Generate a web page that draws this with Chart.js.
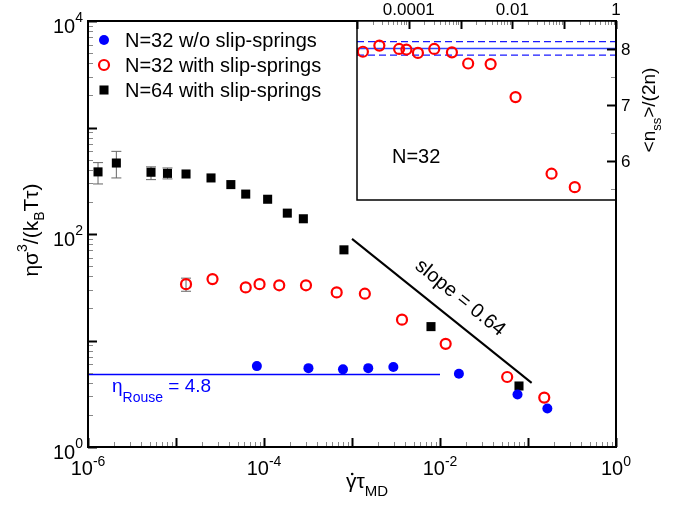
<!DOCTYPE html>
<html>
<head>
<meta charset="utf-8">
<script src="https://cdn.jsdelivr.net/npm/chart.js@4.4.0/dist/chart.umd.min.js"></script>
<style>
  body { margin: 0; background: #fff; }
  #wrap { position: relative; width: 683px; height: 505px; }
  canvas { position: absolute; left: 0; top: 0; }
</style>
</head>
<body>
<div id="wrap">
  <canvas id="main" width="683" height="505"></canvas>
  <canvas id="inset" width="683" height="505"></canvas>
</div>
<script>
// main panel data
const blueX = [8.3e-5, 3.2e-4, 7.9e-4, 1.53e-3, 2.95e-3, 0.0164, 0.076, 0.166];
const blueY = [5.75, 5.5, 5.36, 5.5, 5.63, 4.88, 3.11, 2.3];

const redX = [1.3e-5, 2.6e-5, 6.2e-5, 8.9e-5, 1.49e-4, 3.0e-4, 6.7e-4, 1.4e-3, 3.7e-3, 0.0116, 0.058, 0.153];
const redY = [33.8, 37.7, 31.5, 33.8, 33.0, 33.0, 28.3, 27.5, 15.7, 9.3, 4.54, 2.91];
const redErrLo = [29];
const redErrHi = [38.5];

const blackX = [1.3e-6, 2.1e-6, 5.2e-6, 8.0e-6, 1.3e-5, 2.5e-5, 4.2e-5, 6.2e-5, 1.1e-4, 1.84e-4, 2.8e-4, 8.1e-4, 7.9e-3, 0.079];
const blackY = [383, 464, 380, 371, 366, 336, 291, 237, 212, 157, 139, 71, 13.5, 3.74];
const blackErrLo = [295, 336, 324, 329];
const blackErrHi = [468, 597, 427, 417];

const rouseX = [1e-6, 1e-2];
const rouseY = [4.8, 4.8];
const slopeX = [1e-3, 0.11];
const slopeY = [90, 4.0];

const xTickExp = [-6, -4, -2, 0];
const yTickExp = [0, 2, 4];

// inset data
const insetX = [1.3e-5, 2.7e-5, 6.5e-5, 9e-5, 1.5e-4, 3.1e-4, 6.8e-4, 1.4e-3, 3.8e-3, 0.0115, 0.057, 0.16];
const insetY = [7.95, 8.06, 8.0, 7.99, 7.93, 8.0, 7.94, 7.74, 7.73, 7.14, 5.77, 5.53];
const nssMean = 8.01, nssHi = 8.13, nssLo = 7.89;
const insetTopTicks = [1e-4, 1e-2, 1];
const insetTopLabels = ['0.0001', '0.01', '1'];
const insetRightTicks = [6, 7, 8];

const FONT = '"Liberation Sans", Arial, sans-serif';
function pts(xs, ys) { return xs.map((x, i) => ({ x: x, y: ys[i] })); }

// draws a list of [text, size, dy] pieces one after another
function runWidth(ctx, parts) {
  let w = 0;
  parts.forEach(p => { ctx.font = p[1] + 'px ' + FONT; w += ctx.measureText(p[0]).width; });
  return w;
}
function drawRun(ctx, parts, x, y) {
  parts.forEach(p => {
    ctx.font = p[1] + 'px ' + FONT;
    ctx.fillText(p[0], x, y + p[2]);
    x += ctx.measureText(p[0]).width;
  });
}

function logTicks(from, to, cb) {
  for (let d = from; d <= to; d++) {
    for (let m = 1; m <= 9; m++) {
      if (d == to && m > 1) break;
      cb(m * Math.pow(10, d), m == 1);
    }
  }
}

const mainPlugin = {
  id: 'mainDeco',
  beforeDatasetsDraw(chart) {
    const ctx = chart.ctx, xs = chart.scales.x, ys = chart.scales.y;
    ctx.save();
    ctx.strokeStyle = '#666';
    ctx.lineWidth = 1;
    function bar(x, lo, hi) {
      const px = xs.getPixelForValue(x);
      const a = ys.getPixelForValue(lo), b = ys.getPixelForValue(hi);
      ctx.beginPath();
      ctx.moveTo(px, a); ctx.lineTo(px, b);
      ctx.moveTo(px - 5, a); ctx.lineTo(px + 5, a);
      ctx.moveTo(px - 5, b); ctx.lineTo(px + 5, b);
      ctx.stroke();
    }
    blackErrLo.forEach((lo, i) => bar(blackX[i], lo, blackErrHi[i]));
    redErrLo.forEach((lo, i) => bar(redX[i], lo, redErrHi[i]));
    ctx.restore();
  },
  afterDraw(chart) {
    const ctx = chart.ctx, a = chart.chartArea;
    const xs = chart.scales.x, ys = chart.scales.y;
    ctx.save();
    // ticks
    logTicks(-6, 0, (v, major) => {
      const px = Math.round(xs.getPixelForValue(v)) + 0.5;
      ctx.strokeStyle = major ? '#000' : '#888';
      ctx.lineWidth = major ? 2 : 1;
      ctx.beginPath(); ctx.moveTo(px, a.bottom); ctx.lineTo(px, a.bottom - (major ? 9 : 5)); ctx.stroke();
    });
    logTicks(0, 4, (v, major) => {
      const py = Math.round(ys.getPixelForValue(v)) + 0.5;
      ctx.strokeStyle = major ? '#000' : '#888';
      ctx.lineWidth = major ? 2 : 1;
      ctx.beginPath(); ctx.moveTo(a.left, py); ctx.lineTo(a.left + (major ? 9 : 5), py); ctx.stroke();
    });
    // frame
    ctx.strokeStyle = '#000';
    ctx.lineWidth = 2;
    ctx.strokeRect(a.left, a.top, a.right - a.left, a.bottom - a.top);

    // tick labels
    ctx.fillStyle = '#000';
    ctx.textBaseline = 'alphabetic';
    ctx.textAlign = 'left';
    xTickExp.forEach(e => {
      const parts = [['10', 20, 0], [String(e), 14, -9]];
      const w = runWidth(ctx, parts);
      drawRun(ctx, parts, xs.getPixelForValue(Math.pow(10, e)) - w / 2, 475);
    });
    yTickExp.forEach(e => {
      const parts = [['10', 20, 0], [String(e), 14, -11]];
      const w = runWidth(ctx, parts);
      drawRun(ctx, parts, a.left - 5 - w, ys.getPixelForValue(Math.pow(10, e)) + 12);
    });

    // x title
    const xt = [['\u03B3', 21, 0], ['\u03C4', 21, 0], ['MD', 15, 8]];
    const xw = runWidth(ctx, xt);
    const x0 = 367 - xw / 2;
    drawRun(ctx, xt, x0, 488);
    ctx.font = '21px ' + FONT;
    const gw = ctx.measureText('\u03B3').width;
    ctx.beginPath(); ctx.arc(x0 + gw / 2 + 1, 474, 1.3, 0, Math.PI * 2); ctx.fill();

    // y title
    ctx.save();
    ctx.translate(38, 230);
    ctx.rotate(-Math.PI / 2);
    const yt = [['\u03B7\u03C3', 21, 0], ['3', 14, -11], ['/(k', 21, 0], ['B', 14, 6], ['T\u03C4)', 21, 0]];
    drawRun(ctx, yt, -runWidth(ctx, yt) / 2, 0);
    ctx.restore();

    // Rouse label
    ctx.fillStyle = '#0000ff';
    drawRun(ctx, [['\u03B7', 19, 0], ['Rouse', 14, 10], [' = 4.8', 19, 0]], 112, 392);

    // slope label
    ctx.save();
    ctx.fillStyle = '#000';
    ctx.translate(460, 298);
    ctx.rotate(39 * Math.PI / 180);
    ctx.font = '20px ' + FONT;
    ctx.textAlign = 'center';
    ctx.textBaseline = 'middle';
    ctx.fillText('slope = 0.64', 0, 0);
    ctx.restore();

    // legend
    ctx.font = '20px ' + FONT;
    ctx.textAlign = 'left';
    ctx.textBaseline = 'middle';
    chart.data.datasets.slice(0, 3).forEach((ds, i) => {
      const y = 40 + i * 25;
      ctx.fillStyle = '#000';
      ctx.fillText(ds.label, 125, y + 1);
      ctx.fillStyle = ds.backgroundColor;
      ctx.strokeStyle = ds.borderColor;
      ctx.lineWidth = ds.borderWidth;
      ctx.beginPath();
      if (ds.pointStyle == 'rect') {
        const s = ds.pointRadius * Math.SQRT1_2;
        ctx.rect(104 - s, y - s, 2 * s, 2 * s);
      } else {
        ctx.arc(104, y, ds.pointRadius, 0, Math.PI * 2);
      }
      ctx.fill();
      if (ds.borderWidth) ctx.stroke();
    });
    ctx.restore();
  }
};

new Chart(document.getElementById('main'), {
  type: 'scatter',
  data: {
    datasets: [
      { label: 'N=32 w/o slip-springs', data: pts(blueX, blueY), pointStyle: 'circle', pointRadius: 5,
        backgroundColor: '#0000ff', borderColor: '#0000ff', borderWidth: 0 },
      { label: 'N=32 with slip-springs', data: pts(redX, redY), pointStyle: 'circle', pointRadius: 5,
        backgroundColor: 'rgba(0,0,0,0)', borderColor: '#ff0000', borderWidth: 2.2 },
      { label: 'N=64 with slip-springs', data: pts(blackX, blackY), pointStyle: 'rect', pointRadius: 6.4,
        backgroundColor: '#000', borderColor: '#000', borderWidth: 0 },
      { label: 'Rouse', data: pts(rouseX, rouseY), showLine: true, pointRadius: 0,
        borderColor: '#0000ff', borderWidth: 1.5 },
      { label: 'slope', data: pts(slopeX, slopeY), showLine: true, pointRadius: 0,
        borderColor: '#000', borderWidth: 2 }
    ]
  },
  options: {
    responsive: false,
    animation: false,
    events: [],
    layout: { padding: { left: 88, right: 67, top: 21, bottom: 58 } },
    scales: {
      x: { type: 'logarithmic', min: 1e-6, max: 1, display: false },
      y: { type: 'logarithmic', min: 1, max: 1e4, display: false }
    },
    plugins: { legend: { display: false }, tooltip: { enabled: false } }
  },
  plugins: [mainPlugin]
});

const insetPlugin = {
  id: 'insetDeco',
  beforeDraw(chart) {
    const ctx = chart.ctx, a = chart.chartArea;
    ctx.save();
    ctx.fillStyle = '#fff';
    ctx.fillRect(a.left, a.top, a.right - a.left, a.bottom - a.top);
    ctx.restore();
  },
  afterDraw(chart) {
    const ctx = chart.ctx, a = chart.chartArea;
    const xs = chart.scales.x, ys = chart.scales.y;
    ctx.save();
    logTicks(-5, 0, (v, major) => {
      const px = Math.round(xs.getPixelForValue(v)) + 0.5;
      ctx.strokeStyle = major ? '#000' : '#888';
      ctx.lineWidth = major ? 2 : 1;
      ctx.beginPath(); ctx.moveTo(px, a.top); ctx.lineTo(px, a.top + (major ? 8 : 4)); ctx.stroke();
    });
    for (let v = 5.5; v <= 8.5; v += 0.5) {
      const major = Number.isInteger(v);
      const py = Math.round(ys.getPixelForValue(v)) + 0.5;
      ctx.strokeStyle = major ? '#000' : '#888';
      ctx.lineWidth = major ? 2 : 1;
      ctx.beginPath(); ctx.moveTo(a.right, py); ctx.lineTo(a.right - (major ? 9 : 5), py); ctx.stroke();
    }
    ctx.strokeStyle = '#000';
    ctx.lineWidth = 1.5;
    ctx.strokeRect(a.left, a.top, a.right - a.left, a.bottom - a.top);
    ctx.lineWidth = 2;
    ctx.beginPath(); ctx.moveTo(a.right, a.top); ctx.lineTo(a.right, a.bottom); ctx.stroke();

    ctx.fillStyle = '#000';
    ctx.font = '17px ' + FONT;
    ctx.textAlign = 'center';
    ctx.textBaseline = 'middle';
    insetTopTicks.forEach((v, i) => ctx.fillText(insetTopLabels[i], xs.getPixelForValue(v), 10));
    ctx.textAlign = 'left';
    insetRightTicks.forEach(v => ctx.fillText(String(v), a.right + 5, ys.getPixelForValue(v) + 1));

    ctx.font = '20px ' + FONT;
    ctx.fillText('N=32', 392, 157);

    ctx.save();
    ctx.translate(655, 110);
    ctx.rotate(-Math.PI / 2);
    ctx.textBaseline = 'alphabetic';
    const t = [['<n', 19, 0], ['ss', 13, 6], ['>/(2n)', 19, 0]];
    drawRun(ctx, t, -runWidth(ctx, t) / 2, 0);
    ctx.restore();
    ctx.restore();
  }
};

new Chart(document.getElementById('inset'), {
  type: 'scatter',
  data: {
    datasets: [
      { label: 'nss', data: pts(insetX, insetY), pointStyle: 'circle', pointRadius: 5,
        backgroundColor: 'rgba(0,0,0,0)', borderColor: '#ff0000', borderWidth: 2.2 },
      { label: 'mean', data: [{ x: 1e-5, y: nssMean }, { x: 1, y: nssMean }], showLine: true, pointRadius: 0,
        borderColor: '#3344ff', borderWidth: 1.5 },
      { label: 'hi', data: [{ x: 1e-5, y: nssHi }, { x: 1, y: nssHi }], showLine: true, pointRadius: 0,
        borderColor: '#1a1aff', borderWidth: 1.2, borderDash: [7, 4] },
      { label: 'lo', data: [{ x: 1e-5, y: nssLo }, { x: 1, y: nssLo }], showLine: true, pointRadius: 0,
        borderColor: '#1a1aff', borderWidth: 1.2, borderDash: [7, 4] }
    ]
  },
  options: {
    responsive: false,
    animation: false,
    events: [],
    layout: { padding: { left: 357, right: 67, top: 21, bottom: 305 } },
    scales: {
      x: { type: 'logarithmic', min: 1e-5, max: 1, display: false },
      y: { type: 'linear', min: 5.3, max: 8.5, display: false }
    },
    plugins: { legend: { display: false }, tooltip: { enabled: false } }
  },
  plugins: [insetPlugin]
});
</script>
</body>
</html>
